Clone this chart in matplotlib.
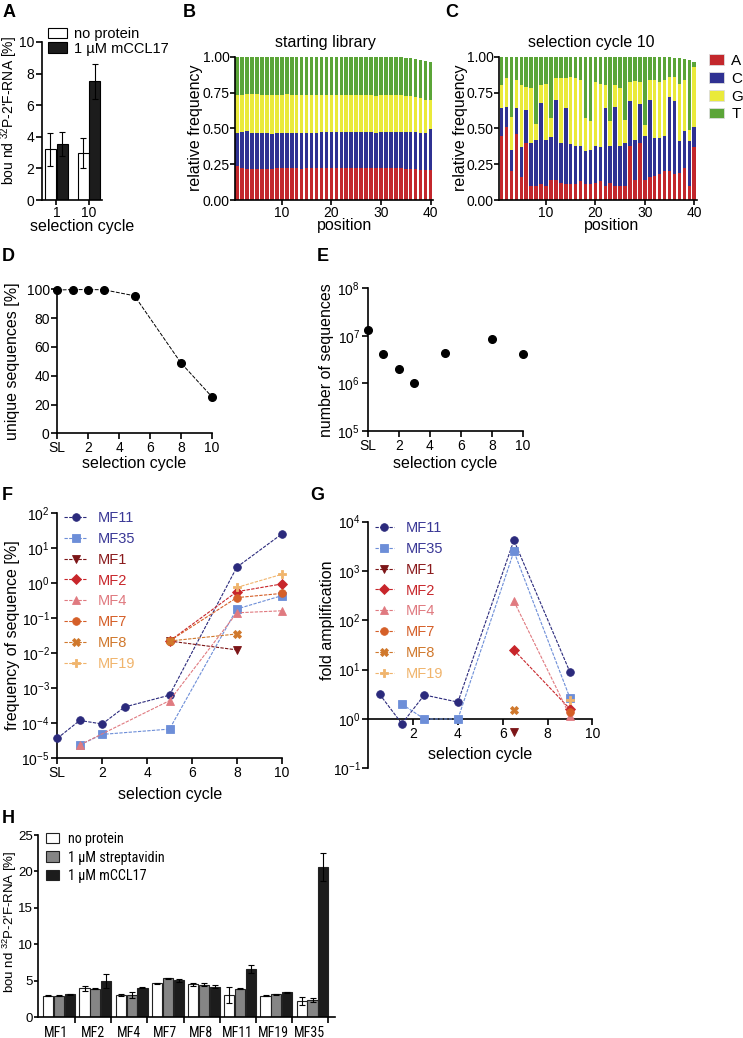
import matplotlib
matplotlib.use('Agg')
import matplotlib.pyplot as plt
import numpy as np
from matplotlib import font_manager
from matplotlib.patches import Patch
from matplotlib.ticker import FixedLocator, NullLocator

plt.rcParams['font.family'] = ['Liberation Sans', 'DejaVu Sans']
plt.rcParams['mathtext.fontset'] = 'custom'
plt.rcParams['mathtext.rm'] = 'Liberation Sans'
plt.rcParams['mathtext.it'] = 'Liberation Sans:italic'
plt.rcParams['mathtext.bf'] = 'Liberation Sans:bold'
plt.rcParams['axes.unicode_minus'] = False
plt.rcParams['axes.linewidth'] = 1.2

# narrow font for panel H if one is installed
installed = {f.name for f in font_manager.fontManager.ttflist}
if 'Liberation Sans Narrow' in installed:
    narrow, narrow_tick, narrow_leg = 'Liberation Sans Narrow', 10, 10.5
elif 'Roboto Condensed' in installed:
    narrow, narrow_tick, narrow_leg = 'Roboto Condensed', 10, 10.2
else:
    narrow, narrow_tick, narrow_leg = 'Liberation Sans', 8.8, 8.6

# ---- panel A
a_cycles = ['1', '10']
a_none = [3.2, 3.0]
a_none_err = [1.05, 0.95]
a_ccl = [3.55, 7.5]
a_ccl_err = [0.75, 1.1]

# ---- panel B (cumulative boundaries A, A+C, A+C+G, total)
positions = list(range(1, 41))
b_A = [0.235, 0.22, 0.215, 0.215, 0.215, 0.215, 0.215, 0.215, 0.22, 0.22,
       0.22, 0.22, 0.22, 0.215, 0.22, 0.22, 0.22, 0.22, 0.22, 0.22,
       0.22, 0.22, 0.22, 0.225, 0.225, 0.22, 0.22, 0.22, 0.22, 0.22,
       0.22, 0.22, 0.22, 0.22, 0.215, 0.215, 0.215, 0.21, 0.21, 0.21]
b_AC = [0.47, 0.475, 0.48, 0.47, 0.465, 0.465, 0.465, 0.46, 0.47, 0.47,
        0.47, 0.47, 0.465, 0.47, 0.47, 0.47, 0.47, 0.475, 0.475, 0.475,
        0.475, 0.475, 0.475, 0.475, 0.475, 0.475, 0.475, 0.475, 0.47, 0.475,
        0.475, 0.475, 0.475, 0.475, 0.475, 0.475, 0.475, 0.47, 0.47, 0.495]
b_ACG = [0.73, 0.735, 0.74, 0.74, 0.74, 0.735, 0.735, 0.735, 0.735, 0.735,
         0.74, 0.735, 0.735, 0.735, 0.735, 0.735, 0.735, 0.735, 0.735, 0.735,
         0.735, 0.735, 0.735, 0.735, 0.735, 0.735, 0.735, 0.73, 0.725, 0.73,
         0.73, 0.73, 0.73, 0.73, 0.725, 0.725, 0.72, 0.715, 0.70, 0.70]
b_tot = [1.0, 1.0, 1.0, 1.0, 1.0, 1.0, 1.0, 1.0, 1.0, 1.0,
         1.0, 1.0, 1.0, 1.0, 1.0, 1.0, 1.0, 1.0, 1.0, 1.0,
         1.0, 1.0, 1.0, 1.0, 1.0, 1.0, 1.0, 1.0, 1.0, 1.0,
         1.0, 1.0, 0.998, 0.995, 0.99, 0.988, 0.985, 0.978, 0.972, 0.962]

# ---- panel C
c_A = [.45, .51, .20, .46, .16, .40, .10, .10, .11, .10,
       .14, .14, .12, .11, .11, .11, .13, .11, .11, .12,
       .13, .10, .12, .10, .10, .10, .38, .14, .40, .14,
       .16, .17, .18, .20, .20, .18, .19, .22, .10, .37]
c_AC = [.64, .65, .35, .64, .37, .63, .40, .42, .68, .42,
        .44, .70, .40, .64, .39, .38, .38, .34, .35, .38,
        .37, .64, .38, .65, .38, .40, .69, .42, .67, .45,
        .70, .43, .43, .45, .72, .69, .41, .48, .41, .51]
c_ACG = [.80, .85, .58, .84, .80, .79, .78, .53, .80, .81,
         .57, .85, .85, .85, .86, .85, .84, .57, .55, .82,
         .81, .80, .55, .80, .78, .56, .82, .83, .82, .52,
         .84, .84, .82, .84, .86, .86, .81, .84, .49, .93]
c_tot = [1.0, 1.0, 1.0, 1.0, 1.0, 1.0, 1.0, 1.0, 1.0, 1.0,
         1.0, 1.0, 1.0, 1.0, 1.0, 1.0, 1.0, 1.0, 1.0, 1.0,
         1.0, 1.0, 1.0, 1.0, 1.0, 1.0, 1.0, 1.0, 1.0, 1.0,
         1.0, 1.0, 1.0, 1.0, 0.998, 0.994, 0.99, 0.985, 0.978, 0.965]
base_names = ['A', 'C', 'G', 'T']
base_colors = ['#c3272c', '#2f3192', '#eaea3a', '#5ba538']

# ---- panels D, E
cycle_x = [0, 1, 2, 3, 5, 8, 10]
d_unique = [99.5, 99.8, 99.8, 99.7, 95.5, 49, 25.5]
e_count = [1.3e7, 4.1e6, 2.0e6, 1.0e6, 4.3e6, 8.5e6, 4.2e6]

# ---- panels F, G
mf_names = ['MF11', 'MF35', 'MF1', 'MF2', 'MF4', 'MF7', 'MF8', 'MF19']
mf_colors = ['#2b2a7c', '#6d8ed8', '#7c1517', '#c8262b', '#e07a80', '#d55f28', '#d0782c', '#f0b46c']
mf_text = ['#3a3896', '#3a3896', '#8a1a1c', '#c8262b', '#e07a80', '#d55f28', '#d0782c', '#f0b46c']
mf_markers = ['o', 's', 'v', 'D', '^', 'o', 'X', 'P']
f_x = [[0, 1, 2, 3, 5, 8, 10], [1, 2, 5, 8, 10], [5, 8], [5, 8, 10],
       [1, 5, 8, 10], [5, 8, 10], [5, 8], [8, 10]]
f_y = [[3.7e-5, 1.2e-4, 9.5e-5, 2.9e-4, 6.3e-4, 2.8, 24.6],
       [2.4e-5, 4.8e-5, 6.8e-5, 0.18, 0.43],
       [0.022, 0.0123],
       [0.022, 0.56, 0.93],
       [2.4e-5, 4.4e-4, 0.14, 0.16],
       [0.022, 0.38, 0.50],
       [0.022, 0.035],
       [0.74, 1.75]]
g_x = [[0.5, 1.5, 2.5, 4, 6.5, 9], [1.5, 2.5, 4, 6.5, 9], [6.5], [6.5, 9],
       [6.5, 9], [9], [6.5], [9]]
g_y = [[3.2, 0.80, 3.07, 2.2, 4200, 8.98],
       [2.0, 1.0, 1.0, 2500, 2.67],
       [0.54],
       [25, 1.6],
       [245, 1.17],
       [1.4],
       [1.55],
       [2.4]]

# ---- panel H
h_aptamers = ['MF1', 'MF2', 'MF4', 'MF7', 'MF8', 'MF11', 'MF19', 'MF35']
h_none = [2.97, 3.98, 3.06, 4.66, 4.52, 3.1, 2.97, 2.24]
h_none_err = [0.1, 0.35, 0.1, 0.05, 0.2, 1.1, 0.1, 0.6]
h_strep = [2.97, 3.93, 3.06, 5.35, 4.48, 3.93, 3.15, 2.38]
h_strep_err = [0.1, 0.1, 0.4, 0.1, 0.2, 0.05, 0.03, 0.3]
h_ccl = [3.15, 4.93, 4.07, 5.07, 4.2, 6.62, 3.42, 20.64]
h_ccl_err = [0.05, 0.95, 0.03, 0.25, 0.25, 0.6, 0.03, 1.95]

W, H = 743, 1038
fig = plt.figure(figsize=(W / 100, H / 100), dpi=100)


def px_axes(box):
    l, t, r, b = box
    return fig.add_axes([l / W, 1 - b / H, (r - l) / W, (b - t) / H])


def style(ax):
    for s in ['top', 'right']:
        ax.spines[s].set_visible(False)
    ax.tick_params(direction='out', length=4, width=1.2, labelsize=10, pad=1.5)
    ax.minorticks_off()


def ylab(ax, box, text, xr, yc, size=11.5):
    l, t, r, b = box
    ax.set_ylabel(text, fontsize=size)
    ax.yaxis.set_label_coords((xr - l) / (r - l), (b - yc) / (b - t))


def xlab(ax, box, text, xc, yt, size=11.5):
    l, t, r, b = box
    ax.set_xlabel(text, fontsize=size)
    ax.xaxis.set_label_coords((xc - l) / (r - l), (b - yt) / (b - t))


def ftext(x, y, s, **kw):
    fig.text(x / W, 1 - y / H, s, **kw)


ekw = dict(elinewidth=0.8, capthick=0.8, ecolor='black', capsize=2.5)
ylab_rna = "bou nd $\\mathregular{^{32}}$P-2'F-RNA [%]"

# ---------------- A
boxA = (42, 42, 102, 200)
ax = px_axes(boxA)
style(ax)
ax.tick_params(axis='x', length=3.5, pad=0.5)
xa = np.arange(len(a_cycles))
ax.bar(xa - 0.18, a_none, 0.34, yerr=a_none_err, color='white', edgecolor='black',
       linewidth=0.8, error_kw=ekw)
ax.bar(xa + 0.18, a_ccl, 0.34, yerr=a_ccl_err, color='#1c1c1c', edgecolor='black',
       linewidth=0.8, error_kw=ekw)
ax.set_xlim(-0.44, 1.4)
ax.set_ylim(0, 10)
ax.set_yticks([0, 2, 4, 6, 8, 10])
ax.set_xticks(xa, a_cycles)
ylab(ax, boxA, ylab_rna, 20.5, 110, size=10)
xlab(ax, boxA, 'selection cycle', 82, 218.5)
ax.legend(handles=[Patch(facecolor='white', edgecolor='black', lw=0.8, label='no protein'),
                   Patch(facecolor='#1c1c1c', edgecolor='black', lw=0.8, label='1 µM mCCL17')],
          loc='upper left', bbox_to_anchor=(48 / W, 1 - 27 / H), bbox_transform=fig.transFigure,
          frameon=False, fontsize=10.5, handlelength=1.3, handleheight=0.75, handletextpad=0.5,
          labelspacing=0.05, borderpad=0, borderaxespad=0)


# ---------------- B, C
def stacked(ax, A, AC, ACG, tot):
    A = np.array(A); AC = np.array(AC); ACG = np.array(ACG); tot = np.array(tot)
    lows = [np.zeros(len(A)), A, AC, ACG]
    highs = [A, AC, ACG, tot]
    for lo, hi, c in zip(lows, highs, base_colors):
        ax.bar(positions, hi - lo, 0.72, bottom=lo, color=c, linewidth=0)
    ax.set_xlim(0.55, 40.5)
    ax.set_ylim(0, 1)
    ax.set_yticks([0, 0.25, 0.5, 0.75, 1.0], ['0.00', '0.25', '0.50', '0.75', '1.00'])
    ax.set_xticks([10, 20, 30, 40])
    ax.tick_params(axis='x', length=3.5, pad=0.5)
    ax.tick_params(axis='y', length=3.5, pad=0.5)


boxB = (235, 56.7, 433, 200)
ax = px_axes(boxB)
style(ax)
stacked(ax, b_A, b_AC, b_ACG, b_tot)
ylab(ax, boxB, 'relative frequency', 203.5, 128)
xlab(ax, boxB, 'position', 345, 218)
ftext(325, 43, 'starting library', ha='center', va='center', fontsize=11.5)

boxC = (499.3, 56.7, 696.7, 200)
ax = px_axes(boxC)
style(ax)
stacked(ax, c_A, c_AC, c_ACG, c_tot)
ylab(ax, boxC, 'relative frequency', 467.5, 128)
xlab(ax, boxC, 'position', 612, 218)
ftext(591, 43, 'selection cycle 10', ha='center', va='center', fontsize=11.5)
ax.legend(handles=[Patch(facecolor=c, edgecolor='#dddddd', lw=0.6, label=n)
                   for n, c in zip(base_names, base_colors)],
          loc='upper left', bbox_to_anchor=(709 / W, 1 - 54 / H), bbox_transform=fig.transFigure,
          frameon=False, fontsize=11, handlelength=1.0, handleheight=0.7, handletextpad=0.45,
          labelspacing=0.25, borderpad=0, borderaxespad=0)

# ---------------- D
boxD = (57.3, 289.3, 211.7, 433.3)
ax = px_axes(boxD)
style(ax)
ax.plot(cycle_x, d_unique, color='black', lw=0.7, ls=(0, (4, 1.5)), marker='o', ms=5.5,
        clip_on=False, zorder=3)
ax.set_xlim(0, 10)
ax.set_ylim(0, 100)
ax.set_yticks([0, 20, 40, 60, 80, 100])
ax.set_xticks([0, 2, 4, 6, 8, 10], ['SL', '2', '4', '6', '8', '10'])
ylab(ax, boxD, 'unique sequences [%]', 20, 361)
xlab(ax, boxD, 'selection cycle', 134.5, 456)

# ---------------- E
boxE = (367.7, 288.3, 523, 431)
ax = px_axes(boxE)
style(ax)
ax.plot(cycle_x, e_count, ls='none', color='black', marker='o', ms=5.5, clip_on=False, zorder=3)
ax.set_yscale('log')
ax.set_xlim(0, 10)
ax.set_ylim(1e5, 1e8)
ax.yaxis.set_major_locator(FixedLocator([1e5, 1e6, 1e7, 1e8]))
ax.yaxis.set_minor_locator(NullLocator())
ax.set_xticks([0, 2, 4, 6, 8, 10], ['SL', '2', '4', '6', '8', '10'])
ylab(ax, boxE, 'number of sequences', 334, 360)
xlab(ax, boxE, 'selection cycle', 445, 456)

# ---------------- F
boxF = (57.3, 512.7, 281.7, 758.3)
ax = px_axes(boxF)
style(ax)
for n, c, m, xs, ys in zip(mf_names, mf_colors, mf_markers, f_x, f_y):
    ax.plot(xs, ys, color=c, lw=0.8, ls=(0, (3, 1.2)), marker=m, ms=5.5, mew=0.6,
            clip_on=False, zorder=3, label=n)
ax.set_yscale('log')
ax.set_xlim(0, 10)
ax.set_ylim(1e-5, 1e2)
ax.yaxis.set_major_locator(FixedLocator([10.0 ** k for k in range(-5, 3)]))
ax.yaxis.set_minor_locator(NullLocator())
ax.set_xticks([0, 2, 4, 6, 8, 10], ['SL', '2', '4', '6', '8', '10'])
ylab(ax, boxF, 'frequency of sequence [%]', 20, 635.5)
xlab(ax, boxF, 'selection cycle', 170, 787)
ax.legend(loc='upper left', bbox_to_anchor=(64 / W, 1 - 511 / H), bbox_transform=fig.transFigure,
          frameon=False, fontsize=10.5, handlelength=1.6, handletextpad=0.7,
          labelspacing=0.47, borderpad=0, borderaxespad=0, labelcolor=mf_text)

# ---------------- G
boxG = (368.3, 521.7, 592.3, 768.3)
ax = px_axes(boxG)
style(ax)
for n, c, m, xs, ys in zip(mf_names, mf_colors, mf_markers, g_x, g_y):
    ax.plot(xs, ys, color=c, lw=0.8, ls=(0, (3, 1.2)), marker=m, ms=5.5, mew=0.6,
            clip_on=False, zorder=3, label=n)
ax.set_yscale('log')
ax.set_xlim(0, 10)
ax.set_ylim(0.1, 1e4)
ax.spines['bottom'].set_position(('data', 1))
ax.yaxis.set_major_locator(FixedLocator([10.0 ** k for k in range(-1, 5)]))
ax.yaxis.set_minor_locator(NullLocator())
ax.set_xticks([2, 4, 6, 8, 10])
ylab(ax, boxG, 'fold amplification', 335, 620)
xlab(ax, boxG, 'selection cycle', 480, 747)
ax.legend(loc='upper left', bbox_to_anchor=(375 / W, 1 - 521 / H), bbox_transform=fig.transFigure,
          frameon=False, fontsize=10.5, handlelength=1.3, handletextpad=0.8,
          labelspacing=0.47, borderpad=0, borderaxespad=0, labelcolor=mf_text)

# ---------------- H
boxH = (37.7, 835, 335, 1017.3)
ax = px_axes(boxH)
style(ax)
ax.tick_params(axis='y', length=3, pad=0.5, labelsize=9.5)
xh = np.arange(len(h_aptamers))
ax.bar(xh - 0.3, h_none, 0.28, yerr=h_none_err, color='white', edgecolor='#222222', lw=0.8, error_kw=ekw)
ax.bar(xh, h_strep, 0.28, yerr=h_strep_err, color='#858585', edgecolor='#222222', lw=0.8, error_kw=ekw)
ax.bar(xh + 0.3, h_ccl, 0.28, yerr=h_ccl_err, color='#1c1c1c', edgecolor='#222222', lw=0.8, error_kw=ekw)
ax.set_xlim(-0.594, 7.62)
ax.set_ylim(0, 25)
ax.set_yticks([0, 5, 10, 15, 20, 25])
ax.set_xticks(xh - 0.08, h_aptamers, family=[narrow, 'Liberation Sans'], fontsize=narrow_tick)
ax.tick_params(axis='x', length=0, pad=6)
ax.set_xticks(xh + 0.437, minor=True)
ax.tick_params(axis='x', which='minor', length=4, width=1.2, direction='out')
ylab(ax, boxH, ylab_rna, 19.3, 922, size=9.5)
ax.legend(handles=[Patch(facecolor='white', edgecolor='#222222', lw=0.8, label='no protein'),
                   Patch(facecolor='#858585', edgecolor='#222222', lw=0.8, label='1 µM streptavidin'),
                   Patch(facecolor='#1c1c1c', edgecolor='#222222', lw=0.8, label='1 µM mCCL17')],
          loc='upper left', bbox_to_anchor=(45.5 / W, 1 - 832 / H), bbox_transform=fig.transFigure,
          frameon=False, prop={'family': [narrow, 'Liberation Sans'], 'size': narrow_leg},
          handlelength=0.95, handleheight=0.75, handletextpad=0.62,
          labelspacing=0.32, borderpad=0, borderaxespad=0)

# panel letters
for letter, x, y in [('A', 3, 4), ('B', 183, 4), ('C', 445, 4), ('D', 2, 248), ('E', 317, 248),
                     ('F', 2, 487), ('G', 310, 487), ('H', 2, 810)]:
    ftext(x, y, letter, fontsize=13, fontweight='bold', ha='left', va='top')

fig.savefig('out.png', dpi=100)
